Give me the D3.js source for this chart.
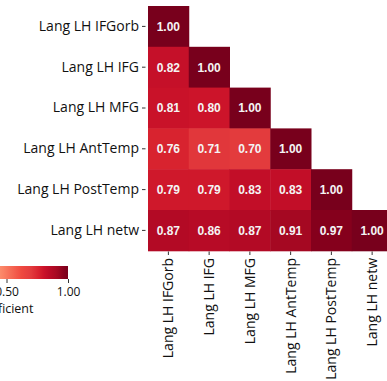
<!DOCTYPE html>
<html>
<head>
<meta charset="utf-8">
<script src="https://cdn.jsdelivr.net/npm/d3@7"></script>
<style>
  html, body { margin: 0; padding: 0; background: #fff; }
  svg { display: block; }
</style>
</head>
<body>
<svg id="chart" width="387" height="381"></svg>
<script>
// Region labels (rows top to bottom, columns left to right)
const regions = ["Lang LH IFGorb", "Lang LH IFG", "Lang LH MFG", "Lang LH AntTemp", "Lang LH PostTemp", "Lang LH netw"];

// Lower-triangle correlation values, one array per row (diagonal included)
const rowIFGorb   = [1.00];
const rowIFG      = [0.82, 1.00];
const rowMFG      = [0.81, 0.80, 1.00];
const rowAntTemp  = [0.76, 0.71, 0.70, 1.00];
const rowPostTemp = [0.79, 0.79, 0.83, 0.83, 1.00];
const rowNetw     = [0.87, 0.86, 0.87, 0.91, 0.97, 1.00];
const matrixRows = [rowIFGorb, rowIFG, rowMFG, rowAntTemp, rowPostTemp, rowNetw];

// Colour bar ticks
const colorbarTicks = [0.00, 0.50, 1.00];
const colorbarLabel = "Correlation coefficient";

const cells = [];
matrixRows.forEach((vals, i) => vals.forEach((v, j) => cells.push({ row: regions[i], col: regions[j], value: v })));

const svg = d3.select("#chart");
const labelFont = "'Open Sans', 'Noto Sans', sans-serif";

// Scales
const x = d3.scaleBand().domain(regions).range([148, 392.5]);
const y = d3.scaleBand().domain(regions).range([6, 250.8]);
const color = d3.scaleLinear()
  .domain([0.0, 0.25, 0.45, 0.62, 0.70, 0.76, 0.80, 0.83, 0.87, 0.91, 0.97, 1.00])
  .range(["#fff5f0", "#fcc3aa", "#fc8b6b", "#ef4a40", "#e33b3d", "#d8232f", "#cc142a", "#c20e28", "#b30a25", "#a50822", "#85001c", "#78001c"])
  .clamp(true);

// Heatmap cells
svg.append("g").selectAll("rect").data(cells).join("rect")
  .attr("x", d => x(d.col))
  .attr("y", d => y(d.row))
  .attr("width", x.bandwidth() + 0.5)
  .attr("height", y.bandwidth() + 0.5)
  .attr("fill", d => color(d.value));

// Annotations
svg.append("g").selectAll("text").data(cells).join("text")
  .attr("x", d => x(d.col) + x.bandwidth() / 2)
  .attr("y", d => y(d.row) + y.bandwidth() / 2)
  .attr("dy", "0.36em")
  .attr("text-anchor", "middle")
  .attr("font-family", "'Liberation Sans', Arial, sans-serif")
  .attr("font-weight", "bold")
  .attr("font-size", 12)
  .attr("fill", "#f4f4f4")
  .text(d => d3.format(".2f")(d.value));

// Left axis
const yAxis = svg.append("g")
  .attr("transform", "translate(145.5,0)")
  .call(d3.axisLeft(y).tickSize(3.5).tickPadding(3));
yAxis.select(".domain").remove();
yAxis.selectAll(".tick line").attr("stroke", "#333");
yAxis.selectAll(".tick text")
  .attr("font-family", labelFont)
  .attr("font-size", 14)
  .attr("fill", "#111");

// Bottom axis with rotated labels
const xAxis = svg.append("g")
  .attr("transform", "translate(0,251.5)")
  .call(d3.axisBottom(x).tickSize(3.5));
xAxis.select(".domain").remove();
xAxis.selectAll(".tick line").attr("stroke", "#333");
xAxis.selectAll(".tick text")
  .attr("transform", "rotate(-90)")
  .attr("x", -6.5)
  .attr("y", 0)
  .attr("dy", "0.35em")
  .attr("text-anchor", "end")
  .attr("font-family", labelFont)
  .attr("font-size", 14)
  .attr("fill", "#111");

// Colour bar
const cb = d3.scaleLinear().domain([0, 1]).range([-55, 68]);
const defs = svg.append("defs");
const grad = defs.append("linearGradient").attr("id", "cbGrad")
  .attr("x1", "0%").attr("x2", "100%").attr("y1", "0%").attr("y2", "0%");
d3.range(0, 1.0001, 0.02).forEach(t => {
  grad.append("stop").attr("offset", (t * 100) + "%").attr("stop-color", color(t));
});
svg.append("rect")
  .attr("x", cb(0)).attr("y", 266)
  .attr("width", cb(1) - cb(0)).attr("height", 13)
  .attr("fill", "url(#cbGrad)");

const cbAxis = svg.append("g")
  .attr("transform", "translate(0,279)")
  .call(d3.axisBottom(cb).tickValues(colorbarTicks).tickFormat(d3.format(".2f")).tickSize(4).tickPadding(4));
cbAxis.select(".domain").remove();
cbAxis.selectAll(".tick line").attr("stroke", "#333");
cbAxis.selectAll(".tick text")
  .attr("font-family", labelFont)
  .attr("font-size", 12)
  .attr("fill", "#111");

svg.append("text")
  .attr("x", 33.5).attr("y", 313)
  .attr("text-anchor", "end")
  .attr("font-family", labelFont)
  .attr("font-size", 12.5)
  .attr("fill", "#111")
  .text(colorbarLabel);
</script>
</body>
</html>
